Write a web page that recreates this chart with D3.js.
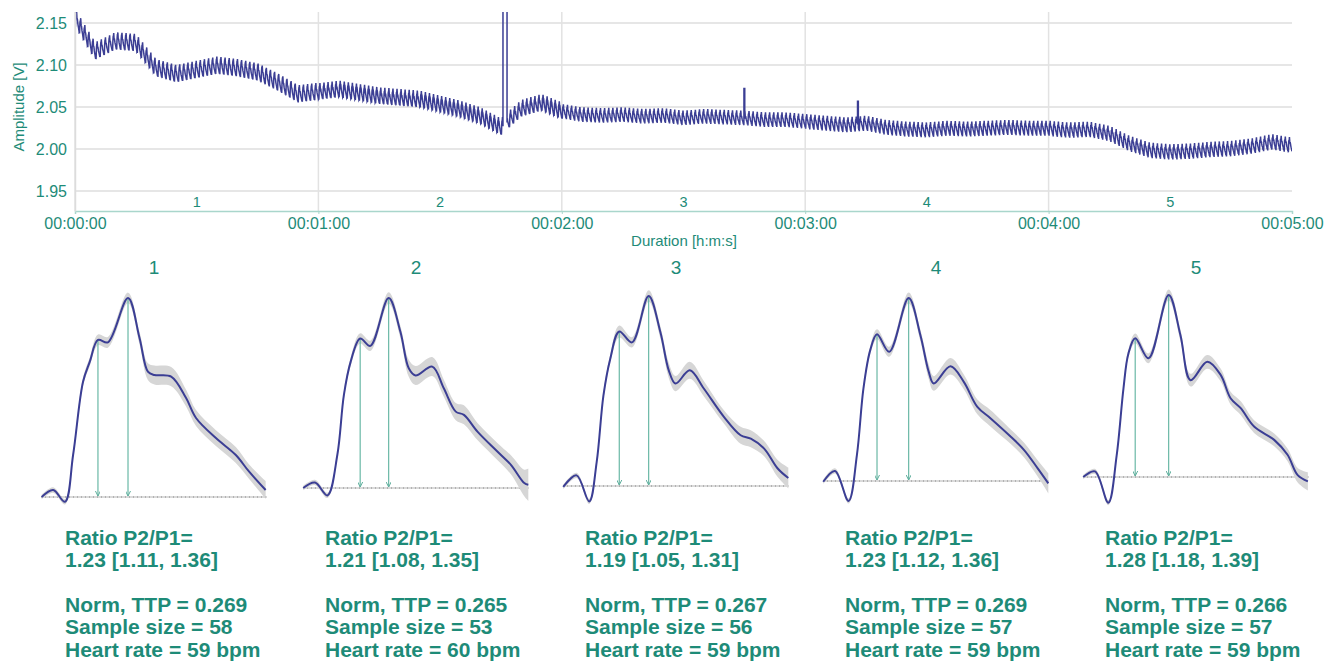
<!DOCTYPE html>
<html>
<head>
<meta charset="utf-8">
<script src="https://cdn.jsdelivr.net/npm/d3@7"></script>
<style>
  body { margin: 0; background: #fff; }
  svg { font-family: "Liberation Sans", Arial, sans-serif; display: block; }
</style>
</head>
<body>
<svg id="chart" width="1333" height="661"></svg>
<script>
// ---- raw recording (top chart) ----
// baseline level of the trace, read every 5 s
const baseTime = [0, 5, 10, 15, 20, 25, 30, 35, 40, 45, 50, 55, 60, 65, 70, 75, 80, 85, 90, 95,
  100, 105, 110, 115, 120, 125, 130, 135, 140, 145, 150, 155, 160, 165, 170, 175, 180, 185, 190, 195,
  200, 205, 210, 215, 220, 225, 230, 235, 240, 245, 250, 255, 260, 265, 270, 275, 280, 285, 290, 295, 300];
const baseValue = [2.155, 2.115, 2.127, 2.125, 2.095, 2.088, 2.093, 2.098, 2.095, 2.090, 2.078, 2.064,
  2.067, 2.070, 2.066, 2.062, 2.060, 2.058, 2.052, 2.046, 2.038, 2.025, 2.047, 2.054, 2.044, 2.040,
  2.039, 2.040, 2.038, 2.039, 2.036, 2.038, 2.037, 2.036, 2.034, 2.034, 2.032, 2.030, 2.028, 2.030,
  2.025, 2.023, 2.022, 2.024, 2.023, 2.024, 2.025, 2.024, 2.024, 2.022, 2.023, 2.018, 2.006, 1.998,
  1.996, 1.997, 1.999, 2.000, 2.003, 2.008, 2.004];
// pulse amplitude [V] for each one-minute segment
const beatAmp = [0.02, 0.019, 0.016, 0.016, 0.016];
// artefacts in the recording: start [s], end [s], level [V]
const artStart = [105.5, 164.9, 192.9];
const artEnd = [106.5, 165.1, 193.1];
const artLevel = [2.6, 2.072, 2.057];

const yTicks = [1.95, 2.00, 2.05, 2.10, 2.15];
const xTicks = [0, 60, 120, 180, 240, 300];
const segments = ["1", "2", "3", "4", "5"];

// ---- averaged pulse per segment: [normalised time, normalised amplitude] ----
const wave1 = [[0.003, 0], [0.054, 0.035], [0.106, -0.024], [0.142, 0.211], [0.186, 0.579], [0.216, 0.68],
  [0.252, 0.789], [0.296, 0.777], [0.385, 1.0], [0.436, 0.799], [0.473, 0.63], [0.502, 0.613],
  [0.576, 0.605], [0.642, 0.497], [0.686, 0.397], [0.774, 0.296], [0.862, 0.211], [0.921, 0.127], [0.994, 0.035]];
const wave2 = [[0.001, 0], [0.053, 0.029], [0.108, -0.039], [0.152, 0.175], [0.181, 0.49], [0.211, 0.665],
  [0.253, 0.787], [0.298, 0.748], [0.379, 1.0], [0.431, 0.822], [0.468, 0.63], [0.498, 0.592],
  [0.572, 0.639], [0.623, 0.525], [0.676, 0.402], [0.712, 0.385], [0.772, 0.297], [0.86, 0.192],
  [0.92, 0.122], [0.979, 0.026], [0.997, 0.017]];
const wave3 = [[0.001, -0.005], [0.06, 0.056], [0.116, -0.081], [0.149, 0.126], [0.179, 0.477], [0.209, 0.669],
  [0.249, 0.813], [0.305, 0.756], [0.379, 1.0], [0.431, 0.809], [0.468, 0.609], [0.498, 0.539],
  [0.561, 0.609], [0.623, 0.513], [0.712, 0.364], [0.786, 0.267], [0.831, 0.249], [0.89, 0.197],
  [0.95, 0.092], [0.997, 0.042]];
const wave4 = [[0.001, -0.004], [0.053, 0.055], [0.113, -0.109], [0.15, 0.142], [0.179, 0.506], [0.209, 0.715],
  [0.239, 0.802], [0.293, 0.706], [0.379, 1.0], [0.431, 0.796], [0.468, 0.596], [0.49, 0.533],
  [0.564, 0.627], [0.623, 0.542], [0.683, 0.405], [0.742, 0.342], [0.831, 0.242], [0.89, 0.169],
  [0.95, 0.069], [0.997, -0.013]];
const wave5 = [[0.001, 0], [0.053, 0.031], [0.112, -0.141], [0.149, 0.119], [0.179, 0.486], [0.201, 0.679],
  [0.231, 0.762], [0.29, 0.652], [0.379, 1.0], [0.431, 0.78], [0.476, 0.532], [0.55, 0.633],
  [0.609, 0.561], [0.653, 0.433], [0.698, 0.378], [0.757, 0.277], [0.846, 0.204], [0.905, 0.122],
  [0.95, 0.01], [0.995, -0.024]];
// confidence band half width, same units
const ci1 = [0.012, 0.014, 0.014, 0.016, 0.02, 0.022, 0.027, 0.027, 0.027, 0.032, 0.042, 0.048, 0.048, 0.042, 0.04, 0.04, 0.04, 0.036, 0.045];
const ci2 = [0.012, 0.014, 0.014, 0.016, 0.02, 0.022, 0.027, 0.027, 0.03, 0.032, 0.045, 0.05, 0.05, 0.045, 0.045, 0.05, 0.045, 0.045, 0.05, 0.07, 0.085];
const ci3 = [0.012, 0.014, 0.014, 0.016, 0.02, 0.022, 0.032, 0.027, 0.03, 0.032, 0.04, 0.04, 0.045, 0.04, 0.035, 0.045, 0.045, 0.04, 0.045, 0.055];
const ci4 = [0.012, 0.014, 0.014, 0.016, 0.02, 0.022, 0.027, 0.027, 0.03, 0.032, 0.04, 0.04, 0.045, 0.04, 0.04, 0.045, 0.04, 0.04, 0.045, 0.055];
const ci5 = [0.012, 0.014, 0.014, 0.016, 0.02, 0.022, 0.027, 0.027, 0.03, 0.032, 0.035, 0.038, 0.035, 0.035, 0.038, 0.035, 0.035, 0.035, 0.04, 0.05];
const p1Index = [6, 6, 6, 6, 6];
const p2Index = [8, 8, 8, 8, 8];

// ---- statistics per segment ----
const ratio = ["1.23", "1.21", "1.19", "1.23", "1.28"];
const ratioLo = ["1.11", "1.08", "1.05", "1.12", "1.18"];
const ratioHi = ["1.36", "1.35", "1.31", "1.36", "1.39"];
const normTTP = ["0.269", "0.265", "0.267", "0.269", "0.266"];
const sampleSize = [58, 53, 56, 57, 57];
const heartRate = [59, 60, 59, 59, 59];

const waves = [wave1, wave2, wave3, wave4, wave5];
const cis = [ci1, ci2, ci3, ci4, ci5];

const teal = "#1e8b78";
const navy = "#3b3e94";
const svg = d3.select("#chart");

// ================= top chart =================
const plot = { left: 75, right: 1292, top: 12, bottom: 211 };
const x = d3.scaleLinear().domain([0, 300]).range([plot.left, plot.right]);
const y = d3.scaleLinear().domain([1.9262, 2.1631]).range([plot.bottom, plot.top]);
const base = d3.scaleLinear().domain(baseTime).range(baseValue);

svg.append("defs").append("clipPath").attr("id", "plotclip")
  .append("rect").attr("x", plot.left).attr("y", plot.top)
  .attr("width", plot.right - plot.left).attr("height", plot.bottom - plot.top);

// grid
svg.append("g").selectAll("line").data(yTicks).join("line")
  .attr("x1", plot.left).attr("x2", plot.right)
  .attr("y1", d => y(d)).attr("y2", d => y(d))
  .attr("stroke", "#dedede").attr("stroke-width", 1.5);
svg.append("g").selectAll("line").data(xTicks.slice(0, 5)).join("line")
  .attr("x1", d => x(d)).attr("x2", d => x(d))
  .attr("y1", plot.top).attr("y2", plot.bottom)
  .attr("stroke", "#e2e2e2").attr("stroke-width", 1.5);

// trace: averaged pulse repeated at heart rate on top of the baseline
let pts = [];
let t = 0;
while (t < 300) {
  const s = Math.min(4, Math.floor(t / 60));
  const per = 60 / heartRate[s];
  waves[s].forEach(([xn, yn]) => {
    const tt = t + xn * per;
    if (tt <= 300) pts.push([tt, base(tt) + beatAmp[s] * (yn - 0.4)]);
  });
  t += per;
}
artStart.forEach((a, i) => {
  pts = pts.filter(p => p[0] < a || p[0] > artEnd[i]);
  pts.push([a, base(a)], [a + 0.001, artLevel[i]], [artEnd[i] - 0.001, artLevel[i]], [artEnd[i], base(artEnd[i])]);
});
pts.sort((a, b) => a[0] - b[0]);

svg.append("path")
  .datum(pts)
  .attr("clip-path", "url(#plotclip)")
  .attr("fill", "none")
  .attr("stroke", navy)
  .attr("stroke-width", 1.5)
  .attr("d", d3.line().x(d => x(d[0])).y(d => y(d[1])));

// axes
const xAxis = svg.append("g")
  .attr("transform", `translate(0,${plot.bottom})`)
  .call(d3.axisBottom(x).tickValues(xTicks).tickSize(3).tickPadding(4)
    .tickFormat(d => d3.utcFormat("%H:%M:%S")(new Date(d * 1000))));
xAxis.select(".domain").attr("stroke", "#a9d6cc").attr("stroke-width", 1.5);
xAxis.selectAll(".tick line").attr("stroke", "#a9d6cc");
xAxis.selectAll("text").attr("fill", teal).attr("font-size", 16);

const yAxis = svg.append("g")
  .attr("transform", `translate(${plot.left},0)`)
  .call(d3.axisLeft(y).tickValues(yTicks).tickSize(0).tickPadding(8).tickFormat(d3.format(".2f")));
yAxis.select(".domain").attr("stroke", "#dcdcdc").attr("stroke-width", 1.5);
yAxis.selectAll("text").attr("fill", teal).attr("font-size", 16);

// segment numbers
svg.append("g").selectAll("text").data(segments).join("text")
  .attr("x", (d, i) => x(i * 60 + 30))
  .attr("y", 207)
  .attr("text-anchor", "middle")
  .attr("fill", teal).attr("font-size", 14.5)
  .text(d => d);

svg.append("text")
  .attr("x", 684).attr("y", 246).attr("text-anchor", "middle")
  .attr("fill", teal).attr("font-size", 15)
  .text("Duration [h:m:s]");
svg.append("text")
  .attr("transform", "translate(24,107) rotate(-90)")
  .attr("text-anchor", "middle")
  .attr("fill", teal).attr("font-size", 15)
  .text("Amplitude [V]");

// ================= averaged pulse panels =================
const panelLeft = [41, 303, 563, 823, 1083];
const panelWidth = 226;
const panelBase = [497, 488, 486, 481, 477];
const panelPeak = [298, 298, 296, 298, 295];

const defs = svg.select("defs");
defs.append("marker").attr("id", "arrow")
  .attr("viewBox", "0 0 6 6").attr("refX", 6).attr("refY", 3)
  .attr("markerWidth", 5).attr("markerHeight", 5).attr("orient", "auto")
  .attr("markerUnits", "userSpaceOnUse")
  .append("path").attr("d", "M0,0 L6,3 L0,6").attr("fill", "none")
  .attr("stroke", "#5fae9c").attr("stroke-width", 1.2);

segments.forEach((name, i) => {
  const px = d3.scaleLinear().domain([0, 1]).range([panelLeft[i], panelLeft[i] + panelWidth]);
  const py = d3.scaleLinear().domain([0, 1]).range([panelBase[i], panelPeak[i]]);
  const w = waves[i], ci = cis[i];
  const g = svg.append("g");

  g.append("text")
    .attr("x", px(0.5)).attr("y", 274).attr("text-anchor", "middle")
    .attr("fill", teal).attr("font-size", 19)
    .text(name);

  // baseline
  g.append("line")
    .attr("x1", px(0)).attr("x2", px(1))
    .attr("y1", py(0)).attr("y2", py(0))
    .attr("stroke", "#b5b5b5").attr("stroke-width", 1);
  g.append("line")
    .attr("x1", px(0)).attr("x2", px(1))
    .attr("y1", py(0)).attr("y2", py(0))
    .attr("stroke", "#8a8a8a").attr("stroke-width", 1)
    .attr("stroke-dasharray", "1,3");

  // confidence band
  g.append("path")
    .datum(w.map((p, k) => [p[0], p[1], ci[k]]))
    .attr("fill", "#d6d6d6")
    .attr("d", d3.area().curve(d3.curveCatmullRom)
      .x(d => px(d[0])).y0(d => py(d[1] - d[2])).y1(d => py(d[1] + d[2])));

  // P1 / P2 markers
  [p1Index[i], p2Index[i]].forEach(k => {
    g.append("line")
      .attr("x1", px(w[k][0])).attr("x2", px(w[k][0]))
      .attr("y1", py(w[k][1])).attr("y2", py(0) - 1)
      .attr("stroke", "#6ab8a6").attr("stroke-width", 1.2)
      .attr("marker-end", "url(#arrow)");
  });

  // mean pulse
  g.append("path")
    .datum(w)
    .attr("fill", "none")
    .attr("stroke", navy).attr("stroke-width", 2)
    .attr("d", d3.line().curve(d3.curveCatmullRom).x(d => px(d[0])).y(d => py(d[1])));

  // statistics
  const lines = [
    ["Ratio P2/P1=", 545],
    [`${ratio[i]} [${ratioLo[i]}, ${ratioHi[i]}]`, 567],
    [`Norm, TTP = ${normTTP[i]}`, 612],
    [`Sample size = ${sampleSize[i]}`, 634],
    [`Heart rate = ${heartRate[i]} bpm`, 657]
  ];
  g.append("g").selectAll("text").data(lines).join("text")
    .attr("x", 65 + 260 * i).attr("y", d => d[1])
    .attr("fill", teal).attr("font-size", 21).attr("font-weight", "bold")
    .text(d => d[0]);
});
</script>
</body>
</html>
